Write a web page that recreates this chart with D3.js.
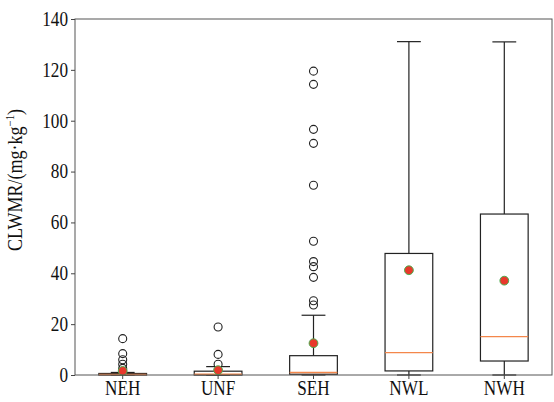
<!DOCTYPE html>
<meta charset="utf-8">
<style>
  body { margin: 0; background: #fff; }
  text { font-family: "Liberation Serif", "Times New Roman", serif; fill: #111; }
</style>
<body></body>
<script src="https://d3js.org/d3.v7.min.js"></script>
<script>
    // values
    const groups = ["NEH", "UNF", "SEH", "NWL", "NWH"];
    const whiskerLow = [0, 0, 0, 0, 0];
    const q1 = [0, 0, 0.3, 1.6, 5.5];
    const medians = [0.2, 0.3, 1.0, 8.8, 15.1];
    const q3 = [0.6, 1.5, 7.6, 47.8, 63.3];
    const whiskerHigh = [1.0, 3.3, 23.5, 131.1, 131.0];
    const means = [1.6, 1.9, 12.5, 41.2, 37.1];
    const outliers = [
        [14.3, 8.4, 6.0, 4.2, 2.6],
        [18.9, 8.1, 4.2],
        [119.5, 114.3, 96.6, 91.1, 74.6, 52.6, 44.6, 42.6, 38.4, 29.2, 27.5],
        [],
        []
    ];
    const yTicks = [0, 20, 40, 60, 80, 100, 120, 140];

    const margin = {top: 19, right: 2, bottom: 27, left: 75},
        width = 554 - margin.left - margin.right,
        height = 402 - margin.top - margin.bottom;

    let x = d3.scaleBand().domain(groups).range([0, width]);
    let y = d3.scaleLinear().domain([0, 140]).range([height, 0]);

    let svg = d3.select("body")
      .append("svg")
        .attr("width", 554)
        .attr("height", 402)
      .append("g")
        .attr("transform", "translate(" + margin.left + "," + margin.top + ")");

    const boxW = x.bandwidth() * 0.5;
    const capW = boxW * 0.5;

    const data = groups.map((g, i) => ({
        g: g, lo: whiskerLow[i], q1: q1[i], med: medians[i], q3: q3[i],
        hi: whiskerHigh[i], mean: means[i], out: outliers[i]
    }));

    let box = svg.selectAll(".box")
        .data(data).enter()
      .append("g")
        .attr("class", "box")
        .attr("transform", d => "translate(" + (x(d.g) + x.bandwidth() / 2) + ",0)");

    // whiskers
    box.append("line")
        .attr("y1", d => y(d.q3)).attr("y2", d => y(d.hi))
        .attr("stroke", "#222").attr("stroke-width", 1.2);
    box.append("line")
        .attr("y1", d => y(d.q1)).attr("y2", d => y(d.lo))
        .attr("stroke", "#222").attr("stroke-width", 1.2);
    box.append("line")
        .attr("x1", -capW / 2).attr("x2", capW / 2)
        .attr("y1", d => y(d.hi)).attr("y2", d => y(d.hi))
        .attr("stroke", "#222").attr("stroke-width", 1.2);
    box.append("line")
        .attr("x1", -capW / 2).attr("x2", capW / 2)
        .attr("y1", d => y(d.lo)).attr("y2", d => y(d.lo))
        .attr("stroke", "#222").attr("stroke-width", 1.2);

    // boxes
    box.append("rect")
        .attr("x", -boxW / 2).attr("width", boxW)
        .attr("y", d => y(d.q3))
        .attr("height", d => y(d.q1) - y(d.q3))
        .attr("fill", "none").attr("stroke", "#222").attr("stroke-width", 1.2);

    // medians
    box.append("line")
        .attr("x1", -boxW / 2).attr("x2", boxW / 2)
        .attr("y1", d => y(d.med)).attr("y2", d => y(d.med))
        .attr("stroke", "#f4874b").attr("stroke-width", 1.4);

    // outliers
    box.selectAll(".flier")
        .data(d => d.out).enter()
      .append("circle")
        .attr("cy", d => y(d))
        .attr("r", 4)
        .attr("fill", "none").attr("stroke", "#222").attr("stroke-width", 1.1);

    // means
    box.append("circle")
        .attr("cy", d => y(d.mean))
        .attr("r", 4.4)
        .attr("fill", "#e8382c").attr("stroke", "#4caf50").attr("stroke-width", 1);

    // frame
    svg.append("rect")
        .attr("width", width).attr("height", height)
        .attr("fill", "none").attr("stroke", "#555").attr("stroke-width", 1);

    // axes
    let yAxis = svg.append("g")
        .call(d3.axisLeft(y).tickValues(yTicks).tickSize(4).tickPadding(3));
    let xAxis = svg.append("g")
        .attr("transform", "translate(0," + height + ")")
        .call(d3.axisBottom(x).tickSize(4).tickPadding(2));
    [xAxis, yAxis].forEach(a => {
        a.select(".domain").remove();
        a.selectAll(".tick line").attr("stroke", "#444");
        a.selectAll("text").attr("font-size", 20).attr("fill", "#111")
            .attr("font-family", "Liberation Serif, serif");
    });
    // glyphs in the picture are tall and narrow
    xAxis.selectAll("text").attr("transform", "scale(0.86,1)");
    yAxis.selectAll("text").attr("x", -7 / 0.86).attr("transform", "scale(0.86,1)");

    // y label
    let lab = svg.append("text")
        .attr("transform", "translate(" + (-53) + "," + 161 + ") rotate(-90) scale(0.9,1)")
        .attr("text-anchor", "middle")
        .attr("font-size", 20);
    lab.append("tspan").text("CLWMR/(mg·kg");
    lab.append("tspan").attr("font-size", 12).attr("dy", -8).text("−1");
    lab.append("tspan").attr("dy", 8).text(")");
</script>
